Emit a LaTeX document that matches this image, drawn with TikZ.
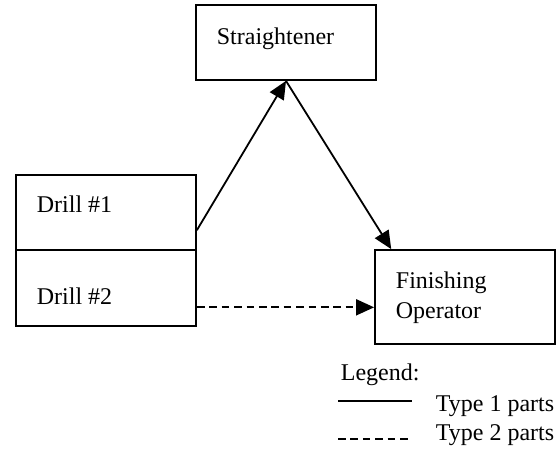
\documentclass[tikz,border=0pt]{standalone}
\usepackage{fontspec}
\setmainfont{Liberation Serif}
\usetikzlibrary{arrows.meta}

\begin{document}
\begin{tikzpicture}[x=0.5pt,y=-0.5pt,line width=0.9pt,
  box/.style={draw,rectangle,inner sep=0pt,minimum width=90pt},
  txt/.style={anchor=base west,inner sep=0pt,font=\fontsize{12pt}{14pt}\selectfont},
  flow/.style={-{Triangle[length=9pt,width=8pt]}},
  dashline/.style={dash pattern=on 3.8pt off 2.4pt}]
  \useasboundingbox (0,0) rectangle (560,450);

  % stations
  \node[box,minimum height=37.5pt] (str) at (286,42.5) {};
  \node[box,minimum height=37.5pt] (drill1) at (106,212.5) {};
  \node[box,minimum height=38pt] (drill2) at (106,288) {};
  \node[box,minimum height=47pt] (fin) at (465,297) {};

  \node[txt] (strtxt) at (216,44) {Straightener};
  \node[txt] (d1txt) at (36,212) {Drill \#1};
  \node[txt] (d2txt) at (36,304) {Drill \#2};
  \node[txt] (fintxt) at (395,288) {Finishing};
  \node[txt] (optxt) at (395,318) {Operator};

  % part flows
  \draw[flow] (drill1.-11) -- (str.south);
  \draw[flow] (str.south) -- (fin.147);
  \draw[flow,dashline] (drill2.-12) -- (drill2.-12 -| fin.west);

  % legend
  \node[txt] (leg) at (340,380) {Legend:};
  \draw (338,401) -- (412,401);
  \node[txt] (t1) at (435,411.5) {Type 1 parts};
  \draw[dashline] (338,439) -- (412,439);
  \node[txt] (t2) at (435,440) {Type 2 parts};
\end{tikzpicture}
\end{document}
